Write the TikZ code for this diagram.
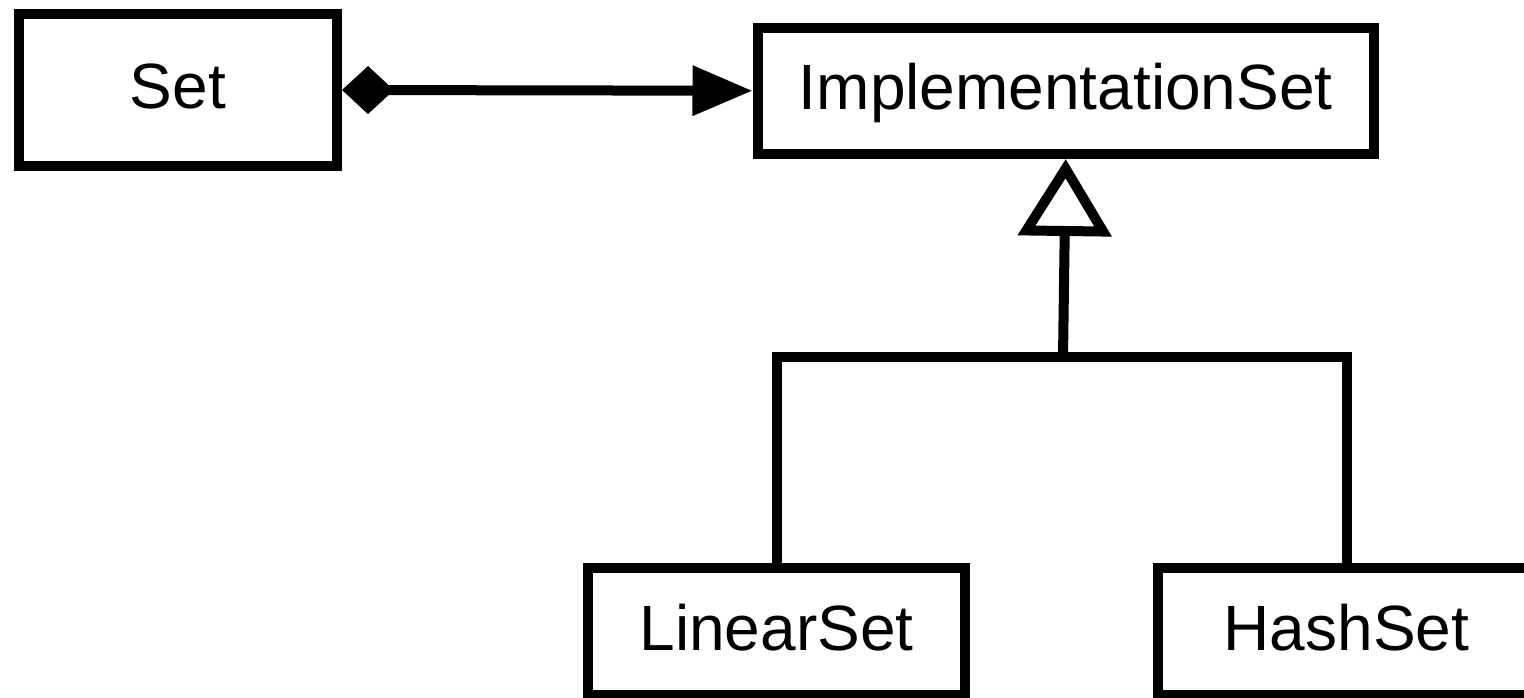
\documentclass[tikz,border=0pt]{standalone}
\usepackage{fontspec}
\setmainfont{Liberation Sans}
\usetikzlibrary{arrows.meta}
\begin{document}
\begin{tikzpicture}[x=1pt,y=-1pt,
  cls/.style={draw, line width=10pt, inner sep=0pt, fill=white,
    font=\fontsize{64}{70}\selectfont, text height=46pt, text depth=9pt},
  conn/.style={line width=10pt}]
\useasboundingbox (0,0) rectangle (1524,697);
\node[cls, minimum width=318pt, minimum height=152pt] (set) at (178,90) {Set};
\node[cls, minimum width=616.5pt, minimum height=126.5pt] (impl) at (1065.75,90.75) {ImplementationSet};
\node[cls, minimum width=377pt, minimum height=127pt] (lin) at (776.5,631.5) {LinearSet};
\node[cls, minimum width=377pt, minimum height=127pt] (hash) at (1346.5,631.5) {HashSet};
\draw[conn, {Diamond[length=52pt,width=48pt]}-{Triangle[length=60pt,width=48pt]}] (set.east) -- (impl.west);
\coordinate (junc) at (1063,357);
\draw[conn, -{Triangle[open,length=77pt,width=92pt]}] (junc) -- (impl.south);
\draw[conn] (lin.north) -- (lin.north |- junc) -- (hash.north |- junc) -- (hash.north);
\end{tikzpicture}
\end{document}
